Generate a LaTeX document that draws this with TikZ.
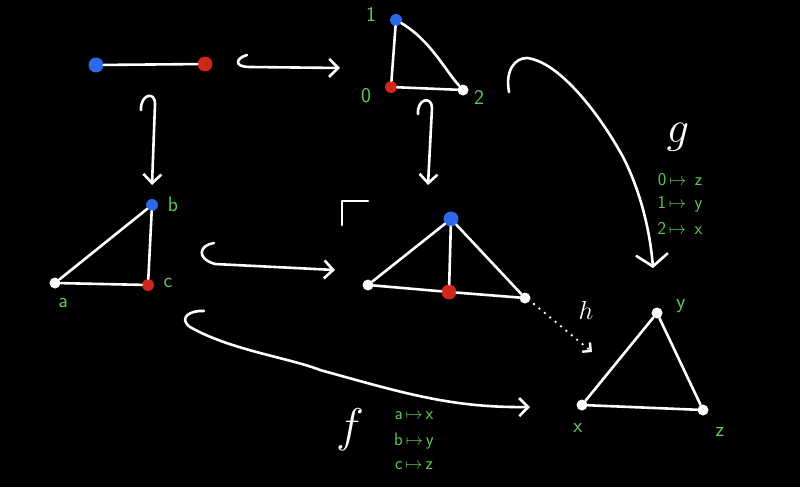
\documentclass[tikz,border=0pt]{standalone}
\usetikzlibrary{arrows.meta}
\definecolor{lblgreen}{RGB}{96,200,90}
\definecolor{dotblue}{RGB}{45,105,230}
\definecolor{dotred}{RGB}{205,40,30}
\tikzset{
  edge/.style={draw=white, line width=2.6pt, line cap=round, line join=round},
  arr/.style={draw=white, line width=2.6pt, line cap=round, line join=round,
     -{Straight Barb[length=9pt,width=18pt,line width=2.6pt]}},
  bdot/.style={circle, fill=dotblue, inner sep=0pt, minimum size=15pt},
  rdot/.style={circle, fill=dotred, inner sep=0pt, minimum size=15pt},
  sbdot/.style={circle, fill=dotblue, inner sep=0pt, minimum size=12pt},
  srdot/.style={circle, fill=dotred, inner sep=0pt, minimum size=12pt},
  wdot/.style={circle, fill=white, inner sep=0pt, minimum size=11pt},
  glbl/.style={text=lblgreen, font=\sffamily\fontsize{21}{21}\selectfont, inner sep=0pt},
  gmap/.style={text=lblgreen, font=\sffamily\fontsize{18}{18}\selectfont, inner sep=0pt},
  wlbl/.style={text=white, inner sep=0pt, font=\Huge},
}
\begin{document}
\begin{tikzpicture}[x=1pt,y=-1pt]
\fill[black] (0,0) rectangle (800,487);
\useasboundingbox (0,0) rectangle (800,487);

% interval
\node[bdot] (i0) at (96,65) {};
\node[rdot] (i1) at (205,64) {};
\draw[edge] (i0) -- (i1);

% top-right triangle
\node[sbdot] (t1) at (396,20) {};
\node[srdot] (t0) at (391,87) {};
\node[wdot] (t2) at (463,90) {};
\draw[edge] (t1) -- (t0);
\draw[edge] (t0) -- (t2);
\draw[edge] (t1) .. controls (430,40) and (445,70) .. (t2);
\node[glbl] (l1) at (371,14) {1};
\node[glbl] (l0) at (366,96) {0};
\node[glbl] (l2) at (479,97) {2};

% left triangle
\node[sbdot] (b) at (152,205) {};
\node[srdot] (c) at (148,285) {};
\node[wdot] (a) at (55,283) {};
\draw[edge] (a) -- (b);
\draw[edge] (b) -- (c);
\draw[edge] (a) -- (c);
\node[glbl] (lb) at (173,204) {b};
\node[glbl] (lc) at (168,283) {c};
\node[glbl] (la) at (63,303) {a};

% middle triangle (pushout)
\node[bdot] (m1) at (451,219) {};
\node[rdot] (m0) at (449,292) {};
\node[wdot] (ma) at (368,285) {};
\node[wdot] (m2) at (525,298) {};
\draw[edge] (ma) -- (m1);
\draw[edge] (m1) -- (m2);
\draw[edge] (m1) -- (m0);
\draw[edge] (ma) -- (m0);
\draw[edge] (m0) -- (m2);

% pushout corner
\coordinate (pc1) at (342,225);
\coordinate (pc2) at (342,201);
\coordinate (pc3) at (368,201);
\draw[edge] (pc1) -- (pc2) -- (pc3);

% right triangle
\node[wdot] (y) at (657,313) {};
\node[wdot] (x) at (582,405) {};
\node[wdot] (z) at (703,410) {};
\draw[edge] (x) -- (y);
\draw[edge] (y) -- (z);
\draw[edge] (x) -- (z);
\node[glbl] (ly) at (681,306) {y};
\node[glbl] (lx) at (578,428) {x};
\node[glbl] (lz) at (720,432) {z};

% hook arrows
\coordinate (h1s) at (247,55);
\coordinate (h1e) at (340,68);
\draw[arr] (h1s) .. controls (236,58) and (233,67) .. (250,67) -- (h1e);

\coordinate (h2s) at (141,110);
\coordinate (h2e) at (152,185);
\draw[arr] (h2s) .. controls (140,95) and (155,90) .. (155,104) -- (h2e);

\coordinate (h3s) at (418,114);
\coordinate (h3e) at (428,185);
\draw[arr] (h3s) .. controls (417,98) and (432,96) .. (432,108) -- (h3e);

\coordinate (h4s) at (214,243);
\coordinate (h4e) at (335,270);
\draw[arr] (h4s) .. controls (200,245) and (195,258) .. (215,264) -- (h4e);

% dotted h
\coordinate (hs) at (534,304);
\coordinate (he) at (592,352);
\draw[draw=white, line width=2.6pt, line cap=round, dash pattern=on 0pt off 7pt,
  -{Straight Barb[length=6pt,width=12pt,line width=2.4pt]}] (hs) -- (he);
\node[wlbl, scale=1.05] (lh) at (586,310) {$h$};

% g arrow
\coordinate (gs) at (509,92);
\coordinate (ge) at (653,268);
\draw[arr, -{Straight Barb[length=12pt,width=32pt,line width=2.6pt]}]
  (gs) .. controls (505,70) and (515,58) .. (527,58)
  .. controls (560,62) and (600,115) .. (623,157)
  .. controls (640,190) and (650,230) .. (ge);
\node[wlbl, scale=1.8] (lg) at (678,137) {$g$};
\node[gmap] (g0) at (680,180) {0$\,\mapsto\,$ z};
\node[gmap] (g1) at (680,204) {1$\,\mapsto\,$ y};
\node[gmap] (g2) at (680,228) {2$\,\mapsto\,$ x};

% f arrow
\coordinate (fs) at (204,311);
\coordinate (fe) at (530,407);
\draw[arr]
  (fs) .. controls (190,310) and (178,318) .. (190,327)
  .. controls (230,350) and (290,358) .. (320,370)
  .. controls (400,392) and (450,408) .. (fe);
\node[wlbl, scale=1.9] (lf) at (350,430) {$f$};
\node[gmap] (f0) at (414,416) {a$\,\mapsto\,$x};
\node[gmap] (f1) at (414,441) {b$\,\mapsto\,$y};
\node[gmap] (f2) at (414,466) {c$\,\mapsto\,$z};
\end{tikzpicture}
\end{document}
